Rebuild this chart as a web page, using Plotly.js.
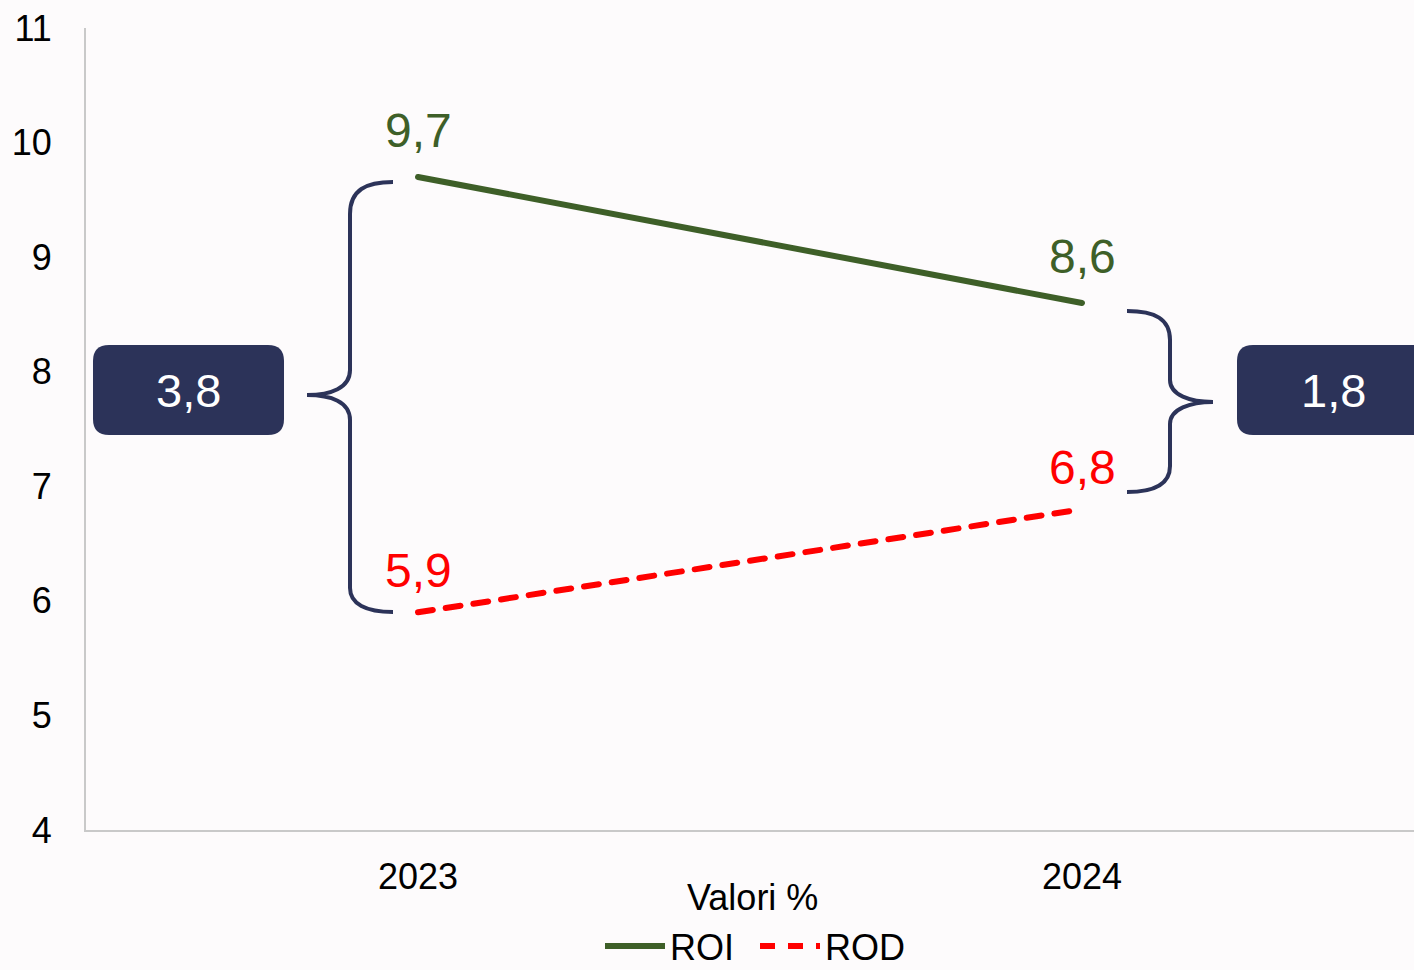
<!DOCTYPE html>
<html>
<head>
<meta charset="utf-8">
<script src="https://cdn.plot.ly/plotly-3.0.1.min.js"></script>
<style>
html,body{margin:0;padding:0;background:#fdfbfc;}
#chart{width:1414px;height:970px;}
.scatterlayer .js-line{stroke-linecap:round;}
</style>
</head>
<body>
<div id="chart"></div>
<script>
// ---- data ----
const years = ['2023', '2024'];
const roi = [9.7, 8.6];
const rod = [5.9, 6.8];
const seriesNames = ['ROI', 'ROD'];
const yTicks = [4, 5, 6, 7, 8, 9, 10, 11];
const xTitle = 'Valori %';

// ---- styles ----
const GREEN = '#3e5f28';
const RED = '#ff0000';
const NAVY = '#2c3359';
const FONT = 'Liberation Sans, Arial, sans-serif';

// plot area in pixels
const L = 86, R = 1414, T = 28, B = 830;
const W = 1414, H = 970;
const X = px => (px - L) / (R - L);
const Y = py => (B - py) / (B - T);

function pathPx(cmds) {
  let s = '';
  for (const c of cmds) {
    if (typeof c === 'string') s += c + ' ';
    else s += X(c[0]).toFixed(5) + ',' + Y(c[1]).toFixed(5) + ' ';
  }
  return s.trim();
}
function rrect(x0, y0, x1, y1, r) {
  return pathPx(['M', [x0 + r, y0], 'L', [x1 - r, y0], 'Q', [x1, y0], [x1, y0 + r],
    'L', [x1, y1 - r], 'Q', [x1, y1], [x1 - r, y1], 'L', [x0 + r, y1],
    'Q', [x0, y1], [x0, y1 - r], 'L', [x0, y0 + r], 'Q', [x0, y0], [x0 + r, y0], 'Z']);
}
const fmt = v => v.toFixed(1).replace('.', ',');

const traces = [
  {x: years, y: roi, name: seriesNames[0], type: 'scatter', mode: 'lines',
   line: {color: GREEN, width: 6}},
  {x: years, y: rod, name: seriesNames[1], type: 'scatter', mode: 'lines',
   line: {color: RED, width: 6, dash: '15px,13px'}}
];

const annotations = [];
years.forEach((yr, i) => {
  annotations.push({x: i, y: roi[i], xref: 'x', yref: 'y', text: fmt(roi[i]), showarrow: false,
    xanchor: 'center', yanchor: 'middle', yshift: 46, font: {family: FONT, size: 48, color: GREEN}});
  annotations.push({x: i, y: rod[i], xref: 'x', yref: 'y', text: fmt(rod[i]), showarrow: false,
    xanchor: 'center', yanchor: 'middle', yshift: 42, font: {family: FONT, size: 48, color: RED}});
});
// difference boxes text
const diffs = years.map((_, i) => fmt(roi[i] - rod[i]));
annotations.push({xref: 'paper', yref: 'paper', x: X(188), y: Y(391), text: diffs[0], showarrow: false,
  xanchor: 'center', yanchor: 'middle', font: {family: FONT, size: 47, color: '#ffffff'}});
annotations.push({xref: 'paper', yref: 'paper', x: X(1333), y: Y(391), text: diffs[1], showarrow: false,
  xanchor: 'center', yanchor: 'middle', font: {family: FONT, size: 47, color: '#ffffff'}});
// x title
annotations.push({xref: 'paper', yref: 'paper', x: X(752), y: Y(897), text: xTitle, showarrow: false,
  xanchor: 'center', yanchor: 'middle', font: {family: FONT, size: 36, color: '#000000'}});

const shapes = [
  {type: 'path', xref: 'paper', yref: 'paper', fillcolor: NAVY, line: {width: 0},
   path: rrect(93, 345, 284, 435, 16)},
  {type: 'path', xref: 'paper', yref: 'paper', fillcolor: NAVY, line: {width: 0},
   path: rrect(1237, 345, 1440, 435, 16)},
  {type: 'path', xref: 'paper', yref: 'paper', line: {color: NAVY, width: 4},
   path: pathPx(['M', [393, 182], 'C', [366, 182], [350, 190], [350, 214], 'L', [350, 370],
     'C', [350, 388], [331, 395], [307, 395], 'C', [331, 395], [350, 402], [350, 420],
     'L', [350, 588], 'C', [350, 604], [366, 612], [393, 612]])},
  {type: 'path', xref: 'paper', yref: 'paper', line: {color: NAVY, width: 4},
   path: pathPx(['M', [1127, 311], 'C', [1155, 311], [1170, 319], [1170, 340], 'L', [1170, 380],
     'C', [1170, 395], [1190, 402], [1213, 402], 'C', [1190, 402], [1170, 409], [1170, 424],
     'L', [1170, 466], 'C', [1170, 484], [1155, 492], [1127, 492]])}
];

const layout = {
  width: W, height: H,
  margin: {l: L, r: W - R, t: T, b: H - B, pad: 0, autoexpand: false},
  paper_bgcolor: '#fdfbfc', plot_bgcolor: '#fdfbfc',
  font: {family: FONT, size: 36, color: '#000000'},
  hovermode: false,
  showlegend: true,
  legend: {orientation: 'h', x: X(600), xanchor: 'left', y: Y(946), yanchor: 'middle',
    itemwidth: 60, entrywidth: 80, entrywidthmode: 'pixels',
    font: {family: FONT, size: 36, color: '#000000'}, bgcolor: 'rgba(0,0,0,0)'},
  xaxis: {type: 'category', range: [-0.5, 1.5], showgrid: false, zeroline: false,
    showline: true, linecolor: '#c9c9c9', linewidth: 2, ticks: '', ticklabelstandoff: 14,
    tickfont: {family: FONT, size: 36, color: '#000000'}, fixedrange: true},
  yaxis: {range: [4, 11], tickvals: yTicks, ticktext: yTicks.map(String), showgrid: false, zeroline: false,
    showline: true, linecolor: '#c9c9c9', linewidth: 2, ticks: '', ticklabelstandoff: 25,
    tickfont: {family: FONT, size: 36, color: '#000000'}, fixedrange: true},
  shapes: shapes,
  annotations: annotations
};

Plotly.newPlot('chart', traces, layout, {displayModeBar: false, staticPlot: true});
</script>
</body>
</html>
